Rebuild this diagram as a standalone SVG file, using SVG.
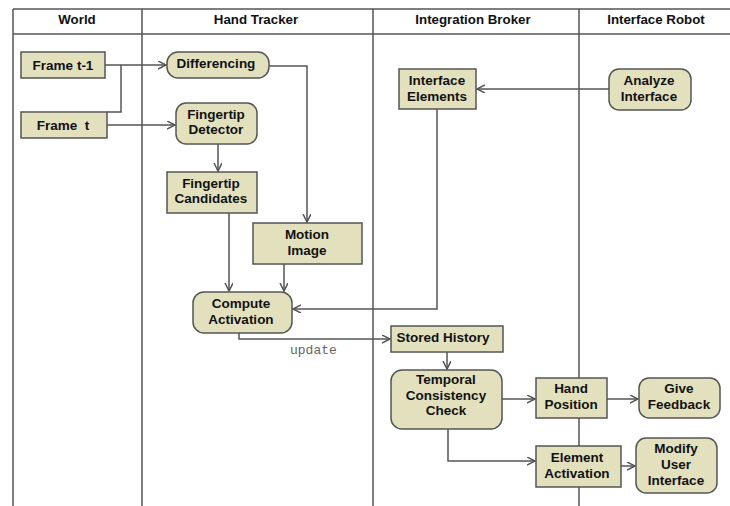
<svg xmlns="http://www.w3.org/2000/svg" width="730" height="506" viewBox="0 0 730 506">
<defs>
<marker id="arr" markerWidth="10" markerHeight="10" refX="8" refY="4" orient="auto" markerUnits="userSpaceOnUse">
<path d="M0,0 L8,4 L0,8" fill="none" stroke="#555" stroke-width="1.5"/>
</marker>
<style>
.lane{stroke:#555;stroke-width:1.5;fill:none}
.hdr{font-family:"Liberation Sans",Arial,sans-serif;font-weight:bold;font-size:13.3px;fill:#111;text-anchor:middle}
.box{fill:#e3e1bd;stroke:#555;stroke-width:1.5}
.t{font-family:"Liberation Sans",Arial,sans-serif;font-weight:bold;font-size:13.5px;fill:#111;text-anchor:middle}
.c{stroke:#555;stroke-width:1.5;fill:none}
.lbl{font-family:"Liberation Mono","Courier New",monospace;font-size:13px;fill:#666}
</style>
</defs>
<rect width="730" height="506" fill="#fff"/>
<g id="lanes">
<path class="lane" d="M13,9 H730 M13,34 H730 M13,9 V506 M142,9 V506 M373,9 V506 M579,9 V506"/>
<text class="hdr" x="77" y="24">World</text>
<text class="hdr" x="256" y="24">Hand Tracker</text>
<text class="hdr" x="473" y="24">Integration Broker</text>
<text class="hdr" x="656" y="24">Interface Robot</text>
</g>
<g id="connectors">
<path class="c" d="M105,65 H166" marker-end="url(#arr)"/>
<path class="c" d="M121,65 V112 H107"/>
<path class="c" d="M107,125 H175" marker-end="url(#arr)"/>
<path class="c" d="M269,66 H307 V222" marker-end="url(#arr)"/>
<path class="c" d="M218,144 V171" marker-end="url(#arr)"/>
<path class="c" d="M229,213 V291" marker-end="url(#arr)"/>
<path class="c" d="M284,264 V291" marker-end="url(#arr)"/>
<path class="c" d="M437,109 V309 H293" marker-end="url(#arr)"/>
<path class="c" d="M609,89 H477" marker-end="url(#arr)"/>
<path class="c" d="M239,333 V339 H390" marker-end="url(#arr)"/>
<text class="lbl" x="290" y="354">update</text>
<path class="c" d="M447,352 V369" marker-end="url(#arr)"/>
<path class="c" d="M502,399 H535" marker-end="url(#arr)"/>
<path class="c" d="M607,399 H638" marker-end="url(#arr)"/>
<path class="c" d="M448,429 V461 H535" marker-end="url(#arr)"/>
<path class="c" d="M621,466 H635" marker-end="url(#arr)"/>
</g>
<g id="frame-t1"><rect class="box" x="21" y="52" width="84" height="26"/><text class="t" x="63" y="70">Frame t-1</text></g>
<g id="frame-t"><rect class="box" x="21" y="112" width="86" height="26"/><text class="t" x="63" y="130">Frame&#160; t</text></g>
<g id="differencing"><rect class="box" x="167" y="52" width="102" height="26" rx="11"/><text class="t" x="216" y="68">Differencing</text></g>
<g id="fingertip-detector"><rect class="box" x="176" y="103" width="81" height="41" rx="10"/><text class="t" x="216" y="119">Fingertip</text><text class="t" x="216" y="134">Detector</text></g>
<g id="fingertip-candidates"><rect class="box" x="167" y="172" width="90" height="41"/><text class="t" x="211" y="188">Fingertip</text><text class="t" x="211" y="203">Candidates</text></g>
<g id="motion-image"><rect class="box" x="253" y="223" width="109" height="41"/><text class="t" x="307" y="239">Motion</text><text class="t" x="307" y="255">Image</text></g>
<g id="compute-activation"><rect class="box" x="193" y="292" width="99" height="41" rx="11"/><text class="t" x="241" y="308">Compute</text><text class="t" x="241" y="324">Activation</text></g>
<g id="interface-elements"><rect class="box" x="399" y="69" width="77" height="40"/><text class="t" x="437" y="85">Interface</text><text class="t" x="437" y="101">Elements</text></g>
<g id="analyze-interface"><rect class="box" x="609" y="69" width="82" height="41" rx="10"/><text class="t" x="649" y="85">Analyze</text><text class="t" x="649" y="101">Interface</text></g>
<g id="stored-history"><rect class="box" x="391" y="326" width="112" height="26"/><text class="t" x="443" y="342">Stored History</text></g>
<g id="temporal-check"><rect class="box" x="391" y="370" width="111" height="59" rx="11"/><text class="t" x="446" y="384">Temporal</text><text class="t" x="446" y="400">Consistency</text><text class="t" x="446" y="415">Check</text></g>
<g id="hand-position"><rect class="box" x="536" y="378" width="71" height="40"/><text class="t" x="571" y="393">Hand</text><text class="t" x="571" y="409">Position</text></g>
<g id="give-feedback"><rect class="box" x="639" y="378" width="81" height="40" rx="10"/><text class="t" x="679" y="393">Give</text><text class="t" x="679" y="409">Feedback</text></g>
<g id="element-activation"><rect class="box" x="536" y="446" width="85" height="41"/><text class="t" x="577" y="462">Element</text><text class="t" x="577" y="478">Activation</text></g>
<g id="modify-ui"><rect class="box" x="636" y="438" width="81" height="55" rx="10"/><text class="t" x="676" y="453">Modify</text><text class="t" x="676" y="469">User</text><text class="t" x="676" y="485">Interface</text></g>
</svg>
